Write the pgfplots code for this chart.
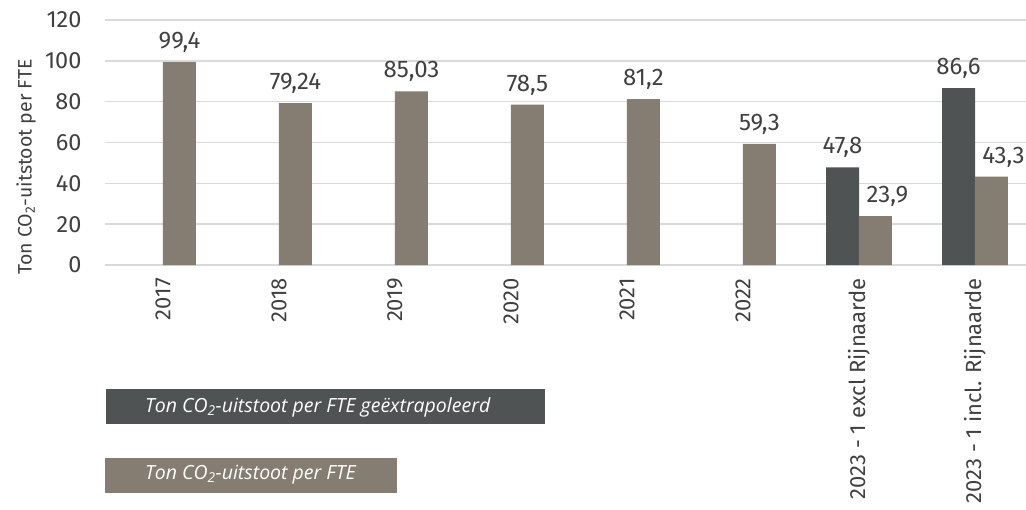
\documentclass[border=0pt]{standalone}
\usepackage{pgfplots}
\pgfplotsset{compat=1.18}
\usepackage{fontspec}
\setmainfont{Fira Sans}
\newfontfamily\legfont{Open Sans}
\definecolor{darkbar}{HTML}{505354}
\definecolor{lightbar}{HTML}{857D71}
\definecolor{txt}{HTML}{404040}
\definecolor{gridc}{HTML}{D9D9D9}
\begin{document}
\begin{tikzpicture}[x=1pt,y=1pt]
\useasboundingbox (0,0) rectangle (1026,509);
\clip (0,0) rectangle (1026,509);
\begin{axis}[
  at={(105pt,244pt)}, anchor=south west,
  scale only axis, width=928pt, height=245pt,
  xmin=-0.5, xmax=7.5, ymin=0, ymax=120,
  ytick={0,20,...,120},
  xtick={0,...,7},
  xticklabels={2017,2018,2019,2020,2021,2022,{2023 - 1 excl Rijnaarde},{2023 - 1 incl. Rijnaarde}},
  xticklabel style={yshift=-13pt, rotate=90, anchor=east, font=\fontsize{22}{26}\selectfont, text=txt, inner sep=0pt},
  yticklabel style={font=\fontsize{23.5}{27}\selectfont, text=txt, anchor=east, xshift=-20pt},
  /pgf/number format/assume math mode=true,
  /pgf/number format/use comma,
  /pgf/number format/1000 sep={},
  axis line style={draw=none},
  ymajorgrids, grid style={gridc, line width=1.5pt},
  major tick length=0pt,
  ylabel={Ton CO\textsubscript{2}-uitstoot per FTE},
  ylabel style={at={(axis description cs:-0.085,0.40)}, rotate=0, anchor=center, font=\fontsize{19.5}{23}\selectfont, text=txt},
  ybar, bar width=33pt, bar shift=0pt,
  nodes near coords,
  every node near coord/.append style={font=\fontsize{24}{28}\selectfont, text=txt, yshift=6pt},
  clip=false,
]
\addplot[fill=darkbar, draw=none] coordinates {(5.858,47.8) (6.858,86.6)};
\addplot[fill=lightbar, draw=none] coordinates {(0.142,99.4) (1.142,79.24) (2.142,85.03) (3.142,78.5) (4.142,81.2) (5.142,59.3)};
\addplot[fill=lightbar, draw=none, every node near coord/.append style={xshift=12pt}] coordinates {(6.142,23.9) (7.142,43.3)};
\end{axis}
\node[fill=darkbar, minimum width=439pt, minimum height=35pt, anchor=north west, inner sep=0pt] at (106,120) {};
\node[anchor=west, text=white, inner sep=0pt] at (145,102) {\legfont\itshape\fontsize{19.5}{23}\selectfont Ton CO\textsubscript{2}-uitstoot per FTE geëxtrapoleerd};
\node[fill=lightbar, minimum width=292pt, minimum height=35pt, anchor=north west, inner sep=0pt] at (105,51) {};
\node[anchor=west, text=white, inner sep=0pt] at (145,34) {\legfont\itshape\fontsize{19.5}{23}\selectfont Ton CO\textsubscript{2}-uitstoot per FTE};
\end{tikzpicture}
\end{document}
